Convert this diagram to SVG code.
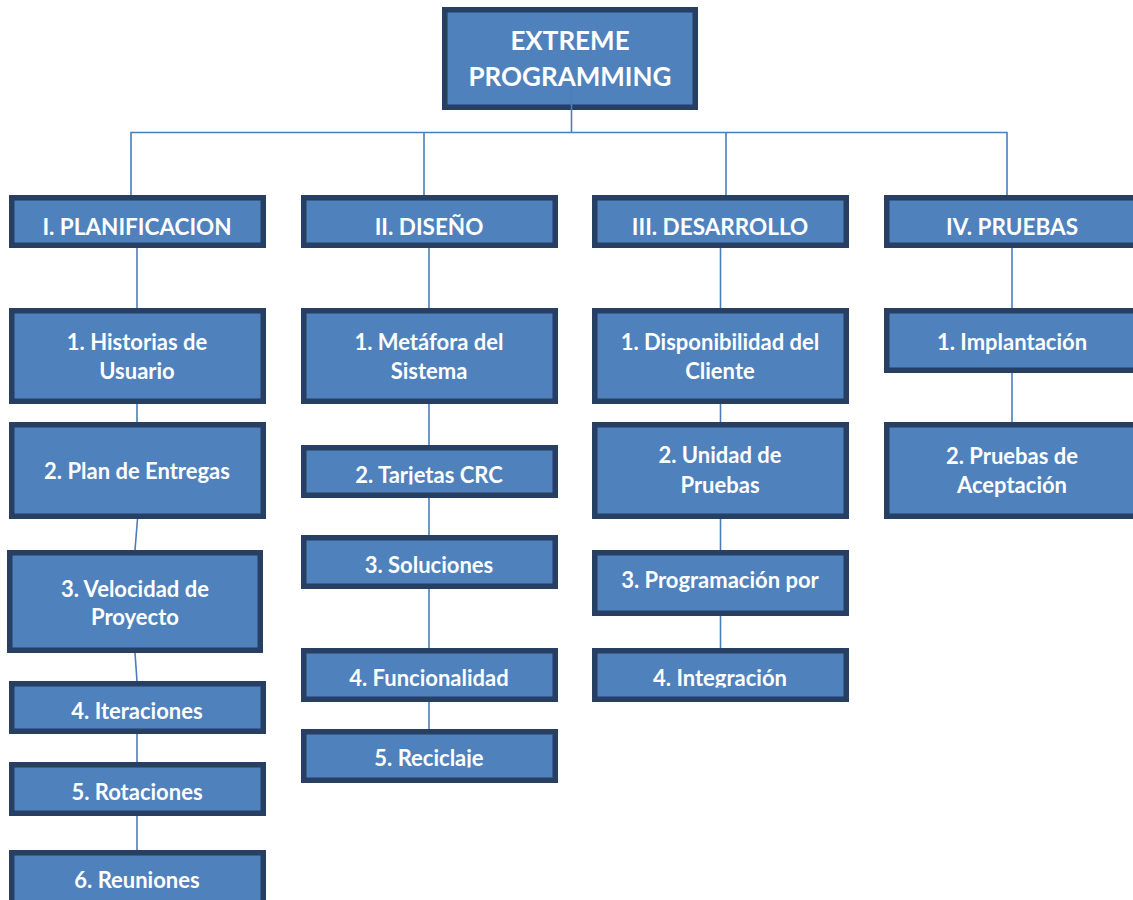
<svg xmlns="http://www.w3.org/2000/svg" width="1133" height="900" viewBox="0 0 1133 900">
  <style>
    .box { fill: #4F81BD; stroke: #263F62; stroke-width: 5.5; }
    .t { font-family: Lato, "Liberation Sans", sans-serif; font-weight: bold; fill: #FFFFFF; text-anchor: middle; }
    .top { font-size: 26px; }
    .hdr { font-size: 22.5px; }
    .item { font-size: 22px; }
    .link { fill: none; stroke: #4A7EBB; stroke-width: 1.6; }
  </style>
  <defs>
    <clipPath id="clipHdr"><rect x="0" y="190" width="1133" height="46.5"/></clipPath>
    <clipPath id="clipTarjetas"><rect x="300" y="440" width="260" height="44.5"/></clipPath>
    <clipPath id="clipFuncional"><rect x="300" y="645" width="260" height="42.5"/></clipPath>
    <clipPath id="clipReciclaje"><rect x="300" y="725" width="260" height="42.5"/></clipPath>
    <clipPath id="clipIntegracion"><rect x="590" y="645" width="260" height="42.5"/></clipPath>
  </defs>

  <rect width="1133" height="900" fill="#FFFFFF"/>

  <!-- root -->
  <g id="root">
    <rect class="box" x="444.75" y="9.75" width="250.5" height="97.5"/>
    <text class="t top" x="570" y="50">EXTREME</text>
    <text class="t top" x="570" y="86">PROGRAMMING</text>
  </g>

  <!-- phase headers -->
  <g id="planificacion">
    <rect class="box" x="11.75" y="197.75" width="251.5" height="47.5"/>
    <text class="t hdr" x="137" y="235" clip-path="url(#clipHdr)">I. PLANIFICACION</text>
  </g>
  <g id="diseno">
    <rect class="box" x="303.75" y="197.75" width="251.5" height="47.5"/>
    <text class="t hdr" x="429" y="235" clip-path="url(#clipHdr)">II. DISEÑO</text>
  </g>
  <g id="desarrollo">
    <rect class="box" x="594.75" y="197.75" width="251.5" height="47.5"/>
    <text class="t hdr" x="720" y="235" clip-path="url(#clipHdr)">III. DESARROLLO</text>
  </g>
  <g id="pruebas">
    <rect class="box" x="886.75" y="197.75" width="251.5" height="47.5"/>
    <text class="t hdr" x="1012" y="235" clip-path="url(#clipHdr)">IV. PRUEBAS</text>
  </g>

  <!-- I. Planificacion items -->
  <g id="historias">
    <rect class="box" x="11.75" y="310.75" width="251.5" height="90.5"/>
    <text class="t item" x="137" y="350">1. Historias de</text>
    <text class="t item" x="137" y="379">Usuario</text>
  </g>
  <g id="plan-entregas">
    <rect class="box" x="11.75" y="424.75" width="251.5" height="91.5"/>
    <text class="t item" x="137" y="479">2. Plan de Entregas</text>
  </g>
  <g id="velocidad">
    <rect class="box" x="9.75" y="552.75" width="250.5" height="97.5"/>
    <text class="t item" x="135" y="597">3. Velocidad de</text>
    <text class="t item" x="135" y="625">Proyecto</text>
  </g>
  <g id="iteraciones">
    <rect class="box" x="11.75" y="683.75" width="251.5" height="47.5"/>
    <text class="t item" x="137" y="719">4. Iteraciones</text>
  </g>
  <g id="rotaciones">
    <rect class="box" x="11.75" y="764.75" width="251.5" height="48.5"/>
    <text class="t item" x="137" y="800">5. Rotaciones</text>
  </g>
  <g id="reuniones">
    <rect class="box" x="11.75" y="852.75" width="251.5" height="60"/>
    <text class="t item" x="137" y="888">6. Reuniones</text>
  </g>

  <!-- II. Diseño items -->
  <g id="metafora">
    <rect class="box" x="303.75" y="310.75" width="251.5" height="90.5"/>
    <text class="t item" x="429" y="350">1. Metáfora del</text>
    <text class="t item" x="429" y="379">Sistema</text>
  </g>
  <g id="tarjetas">
    <rect class="box" x="303.75" y="447.75" width="251.5" height="47.5"/>
    <text class="t item" x="429" y="483" clip-path="url(#clipTarjetas)">2. Tarjetas CRC</text>
  </g>
  <g id="soluciones">
    <rect class="box" x="303.75" y="537.75" width="251.5" height="48.5"/>
    <text class="t item" x="429" y="573">3. Soluciones</text>
  </g>
  <g id="funcionalidad">
    <rect class="box" x="303.75" y="650.75" width="251.5" height="48.5"/>
    <text class="t item" x="429" y="686" clip-path="url(#clipFuncional)">4. Funcionalidad</text>
  </g>
  <g id="reciclaje">
    <rect class="box" x="303.75" y="731.75" width="251.5" height="48.5"/>
    <text class="t item" x="429" y="766" clip-path="url(#clipReciclaje)">5. Reciclaje</text>
  </g>

  <!-- III. Desarrollo items -->
  <g id="disponibilidad">
    <rect class="box" x="594.75" y="310.75" width="251.5" height="90.5"/>
    <text class="t item" x="720" y="350">1. Disponibilidad del</text>
    <text class="t item" x="720" y="379">Cliente</text>
  </g>
  <g id="unidad-pruebas">
    <rect class="box" x="594.75" y="424.75" width="251.5" height="91.5"/>
    <text class="t item" x="720" y="463">2. Unidad de</text>
    <text class="t item" x="720" y="493">Pruebas</text>
  </g>
  <g id="programacion">
    <rect class="box" x="594.75" y="552.75" width="251.5" height="60.5"/>
    <text class="t item" x="720" y="588">3. Programación por</text>
  </g>
  <g id="integracion">
    <rect class="box" x="594.75" y="650.75" width="251.5" height="48.5"/>
    <text class="t item" x="720" y="686" clip-path="url(#clipIntegracion)">4. Integración</text>
  </g>

  <!-- IV. Pruebas items -->
  <g id="implantacion">
    <rect class="box" x="886.75" y="310.75" width="251.5" height="59.5"/>
    <text class="t item" x="1012" y="350">1. Implantación</text>
  </g>
  <g id="aceptacion">
    <rect class="box" x="886.75" y="424.75" width="251.5" height="91.5"/>
    <text class="t item" x="1012" y="464">2. Pruebas de</text>
    <text class="t item" x="1012" y="493">Aceptación</text>
  </g>

  <!-- connectors -->
  <g id="connectors" class="link">
    <path d="M571.5 87 V132.5"/>
    <path d="M131 195 V132.5 H1007 V195"/>
    <path d="M424 132.5 V195"/>
    <path d="M726 132.5 V195"/>

    <path d="M137 248 V308"/>
    <path d="M137 404 V422"/>
    <path d="M137.5 519 L135 550"/>
    <path d="M135 653 L137 681"/>
    <path d="M137 734 V762"/>
    <path d="M137 816 V850"/>

    <path d="M429 248 V308"/>
    <path d="M429 404 V445"/>
    <path d="M429 498 V535"/>
    <path d="M429 589 V648"/>
    <path d="M429 702 V729"/>

    <path d="M720.5 248 V308"/>
    <path d="M720.5 404 V422"/>
    <path d="M720.5 519 V550"/>
    <path d="M720.5 616 V648"/>

    <path d="M1012 248 V308"/>
    <path d="M1012 373 V422"/>
  </g>
</svg>
